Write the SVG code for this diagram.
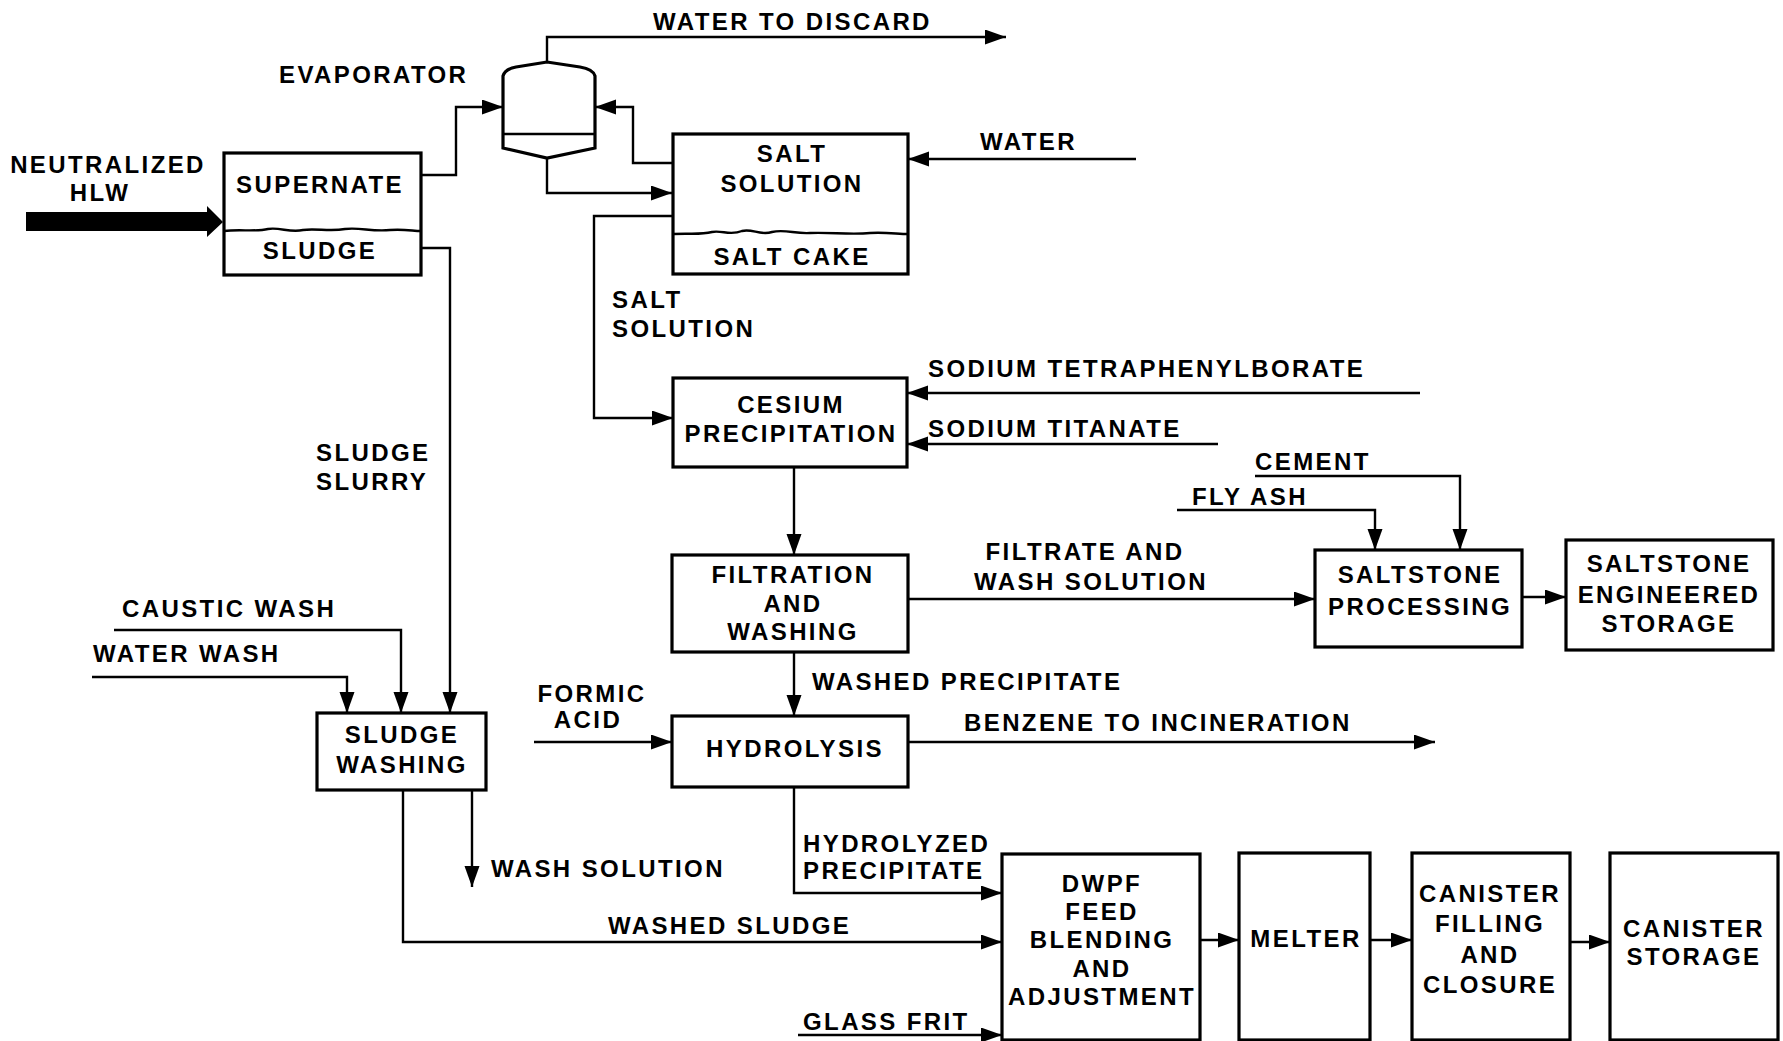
<svg xmlns="http://www.w3.org/2000/svg" width="1783" height="1041" viewBox="0 0 1783 1041">
<style>
text{font-family:"Liberation Sans",Arial,sans-serif;font-weight:bold;font-size:24px;letter-spacing:2.4px;fill:#000}
.m{text-anchor:middle}
.box{fill:#fff;stroke:#000;stroke-width:3.2}
.ln{fill:none;stroke:#000;stroke-width:2.4}
.arr{fill:none;stroke:#000;stroke-width:2.4;marker-end:url(#ah)}
</style>
<defs>
<marker id="ah" markerUnits="userSpaceOnUse" markerWidth="22" markerHeight="16" refX="21" refY="7.5" orient="auto">
<path d="M0,0 L21,7.5 L0,15 z" fill="#000"/>
</marker>
</defs>
<rect width="1783" height="1041" fill="#fff"/>

<g id="connectors">
<polygon points="26,212 207,212 207,206 223,222 207,237 207,231 26,231" fill="#000"/>
<path class="arr" d="M421,175 H456 V107 H503"/>
<path class="arr" d="M673,163 H633 V107 H595"/>
<path class="arr" d="M547,62 V37 H1006"/>
<path class="arr" d="M547,158 V193 H672"/>
<path class="arr" d="M1136,159 H908"/>
<path class="arr" d="M672,216 H594 V418 H673"/>
<path class="arr" d="M1420,393 H907"/>
<path class="arr" d="M1218,444 H907"/>
<path class="arr" d="M794,467 V555"/>
<path class="arr" d="M908,599 H1315"/>
<path class="arr" d="M1177,510 H1375 V550"/>
<path class="arr" d="M1255,476 H1460 V550"/>
<path class="arr" d="M1522,597 H1566"/>
<path class="arr" d="M794,652 V716"/>
<path class="arr" d="M534,742 H672"/>
<path class="arr" d="M908,742 H1435"/>
<path class="arr" d="M421,248 H450 V713"/>
<path class="arr" d="M114,630 H401 V713"/>
<path class="arr" d="M92,677 H347 V713"/>
<path class="arr" d="M472,790 V887"/>
<path class="arr" d="M403,790 V942 H1002"/>
<path class="arr" d="M794,787 V893 H1002"/>
<path class="arr" d="M798,1035 H1002"/>
<path class="arr" d="M1200,940 H1239"/>
<path class="arr" d="M1370,940 H1412"/>
<path class="arr" d="M1570,942 H1610"/>
</g>

<g id="labels">
<text x="653" y="30">WATER TO DISCARD</text>
<text x="279" y="83">EVAPORATOR</text>
<text class="m" x="108" y="173">NEUTRALIZED</text>
<text class="m" x="100" y="201">HLW</text>
<text x="980" y="150">WATER</text>
<text x="612" y="308">SALT</text>
<text x="612" y="337">SOLUTION</text>
<text x="928" y="377">SODIUM TETRAPHENYLBORATE</text>
<text x="928" y="437">SODIUM TITANATE</text>
<text x="1255" y="470">CEMENT</text>
<text x="1192" y="505">FLY ASH</text>
<text class="m" x="1085" y="560">FILTRATE AND</text>
<text class="m" x="1091" y="590">WASH SOLUTION</text>
<text x="812" y="690">WASHED PRECIPITATE</text>
<text class="m" x="592" y="702">FORMIC</text>
<text class="m" x="588" y="728">ACID</text>
<text x="964" y="731">BENZENE TO INCINERATION</text>
<text x="316" y="461">SLUDGE</text>
<text x="316" y="490">SLURRY</text>
<text x="122" y="617">CAUSTIC WASH</text>
<text x="93" y="662">WATER WASH</text>
<text x="491" y="877">WASH SOLUTION</text>
<text x="803" y="852">HYDROLYZED</text>
<text x="803" y="879">PRECIPITATE</text>
<text x="608" y="934">WASHED SLUDGE</text>
<text x="803" y="1030">GLASS FRIT</text>
</g>

<g id="supernate-tank">
<rect class="box" x="224" y="153" width="197" height="122"/>
<path class="ln" d="M224,231 C240,229 255,232 268,229 C280,227 290,233 303,230 C316,228 330,232 345,229 C360,227 372,232 390,230 C405,229 413,231 421,231"/>
<text class="m" x="320" y="193">SUPERNATE</text>
<text class="m" x="320" y="259">SLUDGE</text>
</g>

<g id="evaporator">
<path class="box" d="M503,76 Q505,69 516,67 L547,62 L580,67 Q593,69 595,76 V148 L547,158 L503,148 Z"/>
<line class="ln" x1="503" y1="134" x2="595" y2="134"/>
</g>

<g id="salt-tank">
<rect class="box" x="673" y="134" width="235" height="140"/>
<path class="ln" d="M673,234 C690,233 700,235 712,232 C722,230 730,236 742,231 C752,228 760,236 772,232 C785,229 795,234 810,233 C830,232 850,235 870,233 C885,232 898,234 908,234"/>
<text class="m" x="792" y="162">SALT</text>
<text class="m" x="792" y="192">SOLUTION</text>
<text class="m" x="792" y="265">SALT CAKE</text>
</g>

<g id="cesium-precipitation">
<rect class="box" x="673" y="378" width="234" height="89"/>
<text class="m" x="791" y="413">CESIUM</text>
<text class="m" x="791" y="442">PRECIPITATION</text>
</g>

<g id="filtration-washing">
<rect class="box" x="672" y="555" width="236" height="97"/>
<text class="m" x="793" y="583">FILTRATION</text>
<text class="m" x="793" y="612">AND</text>
<text class="m" x="793" y="640">WASHING</text>
</g>

<g id="hydrolysis">
<rect class="box" x="672" y="716" width="236" height="71"/>
<text class="m" x="795" y="757">HYDROLYSIS</text>
</g>

<g id="saltstone-processing">
<rect class="box" x="1315" y="550" width="207" height="97"/>
<text class="m" x="1420" y="583">SALTSTONE</text>
<text class="m" x="1420" y="615">PROCESSING</text>
</g>

<g id="saltstone-storage">
<rect class="box" x="1566" y="540" width="207" height="110"/>
<text class="m" x="1669" y="572">SALTSTONE</text>
<text class="m" x="1669" y="603">ENGINEERED</text>
<text class="m" x="1669" y="632">STORAGE</text>
</g>

<g id="sludge-washing">
<rect class="box" x="317" y="713" width="169" height="77"/>
<text class="m" x="402" y="743">SLUDGE</text>
<text class="m" x="402" y="773">WASHING</text>
</g>

<g id="dwpf-feed">
<rect class="box" x="1002" y="854" width="198" height="186"/>
<text class="m" x="1102" y="892">DWPF</text>
<text class="m" x="1102" y="920">FEED</text>
<text class="m" x="1102" y="948">BLENDING</text>
<text class="m" x="1102" y="977">AND</text>
<text class="m" x="1102" y="1005">ADJUSTMENT</text>
</g>

<g id="melter">
<rect class="box" x="1239" y="853" width="131" height="187"/>
<text class="m" x="1306" y="947">MELTER</text>
</g>

<g id="canister-filling">
<rect class="box" x="1412" y="853" width="158" height="187"/>
<text class="m" x="1490" y="902">CANISTER</text>
<text class="m" x="1490" y="932">FILLING</text>
<text class="m" x="1490" y="963">AND</text>
<text class="m" x="1490" y="993">CLOSURE</text>
</g>

<g id="canister-storage">
<rect class="box" x="1610" y="853" width="168" height="187"/>
<text class="m" x="1694" y="937">CANISTER</text>
<text class="m" x="1694" y="965">STORAGE</text>
</g>
</svg>
